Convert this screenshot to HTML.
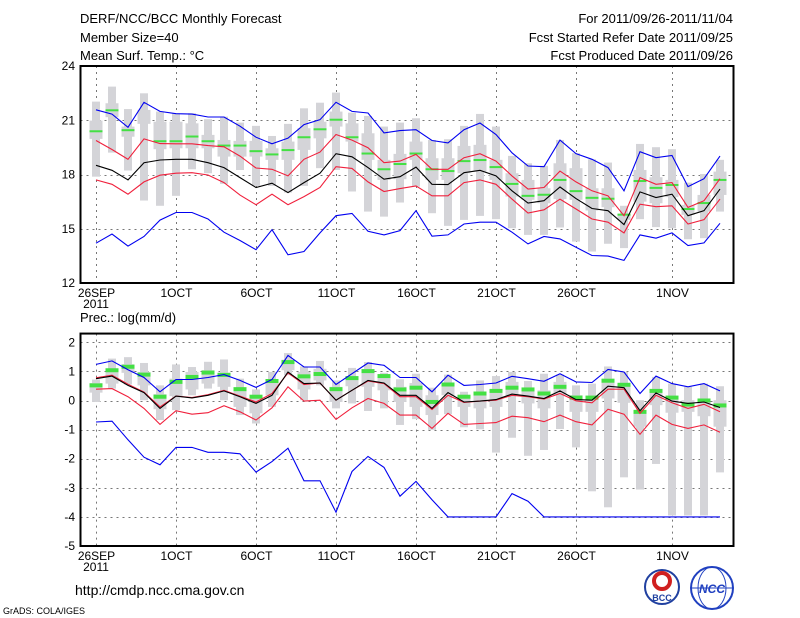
<!DOCTYPE html>
<html><head><meta charset="utf-8"><style>
html,body{margin:0;padding:0;background:#fff;}
svg{display:block;font-family:"Liberation Sans",sans-serif;}
</style></head><body>
<svg id="chart" width="800" height="618" viewBox="0 0 800 618" xmlns="http://www.w3.org/2000/svg">
<g font-size="13" fill="#000">
<text x="80" y="23">DERF/NCC/BCC Monthly Forecast</text>
<text x="80" y="42">Member Size=40</text>
<text x="80" y="60">Mean Surf. Temp.: °C</text>
<text x="733" y="23" text-anchor="end">For 2011/09/26-2011/11/04</text>
<text x="733" y="42" text-anchor="end">Fcst Started Refer Date 2011/09/25</text>
<text x="733" y="60" text-anchor="end">Fcst Produced Date 2011/09/26</text>
</g>
<text x="80" y="322" font-size="13">Prec.: log(mm/d)</text>
<text x="75" y="595" font-size="14">http://cmdp.ncc.cma.gov.cn</text>
<text x="3" y="614" font-size="9">GrADS: COLA/IGES</text>
<g id="top"></g>
<g id="bot"></g>
<g>
<circle cx="662" cy="587" r="17" fill="#fff" stroke="#2040a0" stroke-width="2"/>
<circle cx="662" cy="581" r="8" fill="none" stroke="#d02020" stroke-width="4"/>
<text x="662" y="601" font-size="9" font-weight="bold" text-anchor="middle" fill="#2040a0">BCC</text>
</g>
<g>
<circle cx="712" cy="588" r="21" fill="#fff" stroke="#2040c0" stroke-width="2"/>
<ellipse cx="712" cy="588" rx="14" ry="21" fill="none" stroke="#2040c0" stroke-width="1"/>
<line x1="691" y1="588" x2="733" y2="588" stroke="#2040c0"/>
<text x="712" y="593" font-size="12" font-weight="bold" font-style="italic" text-anchor="middle" fill="#2040c0">NCC</text>
</g>
</svg>
<script>
const dayLabels = ["26SEP","1OCT","6OCT","11OCT","16OCT","21OCT","26OCT","1NOV"];
const dayLabelIdx = [0,5,10,15,20,25,30,36];
const tTicks = [12,15,18,21,24];
const pTicks = [-5,-4,-3,-2,-1,0,1,2];
// Temperature panel
const tBlueHi = [21.58,21.34,20.61,21.99,21.49,21.36,21.34,21.18,21.18,20.67,20.06,19.70,20.01,20.76,21.03,21.99,21.49,21.40,20.30,20.43,20.48,19.88,19.75,20.48,20.85,20.21,19.20,18.47,18.43,19.90,19.15,18.84,18.38,17.10,19.26,18.93,19.05,17.33,17.77,19.02];
const tRedHi = [19.88,19.38,18.84,19.97,19.71,19.70,19.70,19.60,19.53,19.02,18.36,18.29,17.92,18.84,19.24,20.21,19.90,19.48,18.65,18.74,19.11,18.29,18.29,18.93,19.15,18.74,17.92,17.19,17.28,18.19,17.59,17.10,16.82,15.72,17.83,17.46,17.55,16.18,16.55,17.77];
const tMean = [18.51,18.23,17.70,18.65,18.80,18.84,18.84,18.65,18.38,17.83,17.28,17.52,17.00,17.55,18.07,19.15,18.98,18.38,17.74,17.88,18.41,17.46,17.44,18.10,18.23,17.92,17.10,16.42,16.55,17.31,16.67,16.12,16.00,15.23,17.04,16.73,16.91,15.72,16.00,17.19];
const tRedLo = [17.70,17.46,16.91,17.59,17.96,18.07,18.10,17.97,17.55,16.86,16.33,16.91,16.33,16.78,17.28,18.43,18.34,17.59,17.06,17.22,17.37,16.82,16.82,17.55,17.70,17.46,16.64,15.87,16.05,16.64,16.09,15.54,15.36,14.77,16.36,16.22,16.27,15.26,15.50,16.64];
const tBlueLo = [14.20,14.71,14.04,14.57,15.48,15.90,15.90,15.54,14.81,14.35,13.84,14.95,13.56,13.74,14.77,15.72,15.85,14.86,14.66,14.90,16.00,14.59,14.66,15.26,15.36,15.36,14.81,14.16,14.57,14.44,13.98,13.52,13.49,13.25,14.66,14.48,14.77,14.07,14.22,15.30];
const tGreen = [20.39,21.55,20.45,null,19.84,19.84,20.10,19.84,19.60,19.60,19.29,19.11,19.35,20.06,20.50,21.03,20.06,19.16,18.29,18.58,19.16,18.29,18.19,18.74,18.80,18.41,17.48,16.82,16.88,17.70,17.08,16.71,16.66,15.78,17.64,17.26,17.42,16.09,16.42,17.70];
const tRangeHi = [22.03,22.86,21.62,22.49,21.48,21.39,21.39,21.06,21.20,20.87,20.69,20.13,20.80,21.66,21.97,22.53,21.42,21.24,20.65,20.87,21.11,19.91,19.95,20.69,21.35,20.65,19.03,18.62,18.48,19.91,19.18,18.84,18.66,16.27,19.69,19.51,19.40,17.55,18.03,18.81];
const tRangeLo = [17.88,19.21,18.22,16.56,16.27,16.82,18.29,18.07,17.48,18.25,17.37,17.37,17.00,17.37,18.35,18.25,17.06,15.95,15.67,16.45,17.33,15.86,15.16,15.49,15.71,15.53,15.03,14.66,14.66,15.07,14.29,13.74,14.17,13.93,15.53,15.09,15.03,14.42,14.48,15.95];
const tBoxHi = [20.98,21.94,20.65,21.57,20.92,20.92,20.83,20.19,19.91,19.86,19.86,19.45,19.82,20.56,20.92,21.48,20.83,20.28,18.81,19.14,19.82,18.90,18.90,19.58,19.64,18.81,18.07,17.70,17.24,18.62,18.35,17.24,17.24,15.82,18.25,17.85,17.70,16.32,16.87,18.16];
const tBoxLo = [19.97,21.17,20.09,20.80,19.40,19.45,19.45,19.45,18.99,18.99,18.99,18.81,18.81,19.36,20.00,20.65,19.82,18.81,17.70,17.74,18.81,17.70,17.70,18.07,18.16,17.70,16.78,16.60,16.41,16.64,16.60,16.01,16.19,15.49,16.50,16.41,16.75,15.77,15.95,16.87];
// Precipitation panel
const pBlueHi = [1.24,1.36,1.06,0.79,0.30,0.72,0.72,0.79,0.89,0.69,0.45,0.72,1.55,1.15,1.15,0.55,0.92,1.29,1.21,0.79,0.79,0.30,0.87,0.52,0.55,0.60,0.83,0.75,0.66,0.92,0.64,0.62,1.07,0.98,0.24,0.84,0.58,0.47,0.58,0.33];
const pRedHi = [0.78,0.87,0.56,0.29,-0.22,0.15,0.10,0.20,0.35,0.15,-0.05,0.24,0.95,0.55,0.60,0.01,0.35,0.67,0.58,0.13,0.13,-0.31,0.18,-0.07,-0.02,0.01,0.18,0.13,0.05,0.24,-0.01,-0.08,0.39,0.39,-0.44,0.18,-0.08,-0.27,-0.13,-0.39];
const pMean = [0.75,0.84,0.52,0.27,-0.27,0.15,0.09,0.18,0.33,0.13,-0.10,0.18,0.98,0.58,0.60,0.01,0.35,0.69,0.60,0.18,0.18,-0.27,0.27,-0.05,-0.02,0.03,0.22,0.15,0.07,0.33,0.03,0.01,0.49,0.44,-0.35,0.26,-0.02,-0.10,-0.05,-0.24];
const pRedLo = [0.39,0.41,0.13,-0.27,-0.82,-0.35,-0.47,-0.42,-0.18,-0.39,-0.67,-0.25,0.47,-0.02,0.01,-0.65,-0.25,0.07,-0.10,-0.50,-0.50,-0.96,-0.44,-0.82,-0.79,-0.76,-0.54,-0.59,-0.73,-0.50,-0.73,-0.84,-0.30,-0.47,-1.16,-0.50,-0.82,-0.96,-0.84,-1.09];
const pBlueLo = [-0.74,-0.71,-1.35,-1.95,-2.21,-1.61,-1.61,-1.78,-1.78,-1.83,-2.46,-2.10,-1.64,-2.76,-2.76,-3.84,-2.44,-1.92,-2.30,-3.29,-2.78,-3.41,-4,-4,-4,-4,-3.2,-3.46,-4,-4,-4,-4,-4,-4,-4,-4,-4,-4,-4,-4];
const pGreen = [0.52,1.04,1.16,0.89,0.13,0.64,0.81,0.96,0.88,0.39,0.13,0.67,1.32,0.83,0.91,0.39,0.77,1.01,0.84,0.38,0.44,-0.05,0.55,0.13,0.24,0.33,0.44,0.38,0.24,0.47,0.10,0.10,0.68,0.54,-0.39,0.33,0.10,-0.14,0.00,-0.17];
const pRangeHi = [0.72,1.44,1.49,1.29,0.52,1.24,1.15,1.33,1.41,0.75,0.38,0.98,1.63,1.17,1.36,0.69,1.12,1.32,0.95,0.73,0.92,0.44,0.89,0.30,0.69,0.84,0.98,0.67,0.92,0.89,0.52,0.58,1.17,0.98,0.01,0.81,0.58,0.47,0.58,0.49];
const pRangeLo = [-0.05,0.41,0.55,0.01,-0.67,-0.33,0.18,0.41,0.01,-0.50,-0.79,-0.22,0.87,0.01,0.52,-0.27,-0.10,-0.36,-0.27,-0.84,-0.64,-1.01,-0.47,-0.92,-0.99,-1.79,-1.28,-1.90,-1.70,-0.98,-1.61,-3.12,-3.67,-2.64,-3.06,-2.18,-3.95,-3.95,-3.95,-2.47];
const pBoxHi = [0.60,1.09,1.25,0.98,0.22,0.75,0.98,1.04,0.96,0.35,0.18,0.64,1.40,0.98,1.09,0.47,0.83,1.07,0.81,0.47,0.60,0.18,0.58,0.18,0.30,0.35,0.64,0.41,0.35,0.64,0.18,0.13,0.75,0.60,-0.33,0.35,0.13,0.01,0.07,0.01];
const pBoxLo = [0.27,0.58,0.95,0.52,-0.30,0.15,0.38,0.58,0.47,-0.22,-0.44,0.18,1.04,0.38,0.69,-0.05,0.49,0.47,0.35,-0.05,-0.22,-0.50,0.18,-0.22,-0.27,-0.22,0.18,-0.10,-0.27,0.18,-0.39,-0.39,0.07,-0.08,-0.90,-0.16,-0.42,-0.39,-0.54,-0.90];

const NS="http://www.w3.org/2000/svg";
const X0=80.5, X1=733.5;
function xOf(d){return 96+16*d;}
function mk(tag,attrs,parent){const e=document.createElementNS(NS,tag);for(const k in attrs)e.setAttribute(k,attrs[k]);parent.appendChild(e);return e;}

function drawPanel(g,cfg){
  const y=v=>cfg.top+(cfg.vmax-v)*(cfg.bottom-cfg.top)/(cfg.vmax-cfg.vmin);
  // grid
  for(const t of cfg.ticks){
    if(t>cfg.vmin&&t<cfg.vmax){
      const l=mk('line',{x1:X0,x2:X1,y1:Math.round(y(t))+0.5,y2:Math.round(y(t))+0.5,stroke:'#777','stroke-dasharray':'2,4'},g);
      
      
    }
    const tx=mk('text',{x:75,y:y(t)+4,'font-size':12,'text-anchor':'end'},g);
    tx.textContent=String(t);
    
    
  }
  dayLabelIdx.forEach((d,i)=>{
    const xx=xOf(d)+0.5;
    const l=mk('line',{x1:xx,x2:xx,y1:cfg.top,y2:cfg.bottom,stroke:'#777','stroke-dasharray':'2,4'},g);
    
    
    const tx=mk('text',{x:xx,y:cfg.bottom+14,'font-size':12,'text-anchor':'middle'},g);
    tx.textContent=dayLabels[i];
    
    
  });
  const yr=mk('text',{x:96,y:cfg.bottom+25,'font-size':12,'text-anchor':'middle'},g);
  yr.textContent='2011';
  
  
  // bars
  for(let d=0;d<40;d++){
    const xc=xOf(d);
    const r1=mk('rect',{x:xc-4,width:8,y:y(cfg.rHi[d]),height:y(cfg.rLo[d])-y(cfg.rHi[d]),fill:'#d4d4d8'},g);
    
    
    const r2=mk('rect',{x:xc-6.5,width:13,y:y(cfg.bHi[d]),height:y(cfg.bLo[d])-y(cfg.bHi[d]),fill:'#d4d4d8'},g);
    
    
  }
  for(let d=0;d<40;d++){
    if(cfg.green[d]===null)continue;
    const gr=mk('rect',{x:xOf(d)-6.5,width:13,y:y(cfg.green[d])-cfg.gh/2,height:cfg.gh,fill:'#44e044'},g);
    
    
  }
  const lines=[[cfg.bLoLine,'#0000f0','min-line'],[cfg.rLoLine,'#f0203c','lower-sd-line'],[cfg.rHiLine,'#f0203c','upper-sd-line'],[cfg.mean,'#000','mean-line'],[cfg.bHiLine,'#0000f0','max-line']];
  for(const [arr,col,name] of lines){
    const pts=arr.map((v,d)=>xOf(d)+','+y(v).toFixed(1)).join(' ');
    const p=mk('polyline',{points:pts,fill:'none',stroke:col,'stroke-width':1.1},g);
    
    
  }
  const f=mk('rect',{x:X0,y:cfg.top,width:X1-X0,height:cfg.bottom-cfg.top,fill:'none',stroke:'#000','stroke-width':2},g);
  
  
}
drawPanel(document.getElementById('top'),{top:66,bottom:283,vmin:12,vmax:24,ticks:tTicks,
  rHi:tRangeHi,rLo:tRangeLo,bHi:tBoxHi,bLo:tBoxLo,green:tGreen,gh:2,
  bHiLine:tBlueHi,rHiLine:tRedHi,mean:tMean,rLoLine:tRedLo,bLoLine:tBlueLo});
drawPanel(document.getElementById('bot'),{top:342.3-0.3*29.1,bottom:546,vmin:-5,vmax:2.3,ticks:pTicks,
  rHi:pRangeHi,rLo:pRangeLo,bHi:pBoxHi,bLo:pBoxLo,green:pGreen,gh:4,
  bHiLine:pBlueHi,rHiLine:pRedHi,mean:pMean,rLoLine:pRedLo,bLoLine:pBlueLo});
</script>
</body></html>
